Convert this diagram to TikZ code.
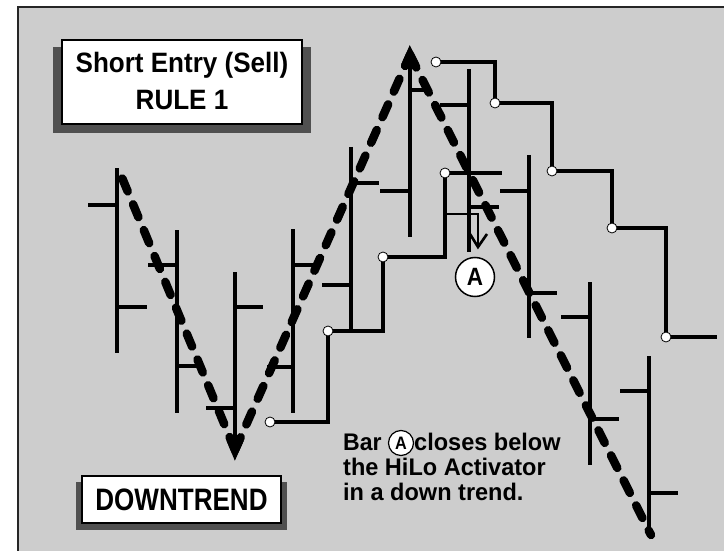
\documentclass[tikz,border=0pt]{standalone}
\usepackage{fontspec}
\usepackage{graphicx}
\setmainfont{Liberation Sans}
\usetikzlibrary{calc}
\definecolor{bg}{RGB}{205,205,205}
\definecolor{shadowc}{RGB}{80,80,80}
\begin{document}
\begin{tikzpicture}[x=1pt,y=-1pt,
  bar/.style={line width=3.4pt},
  hilo/.style={line width=3.4pt, line join=miter},
  dotmark/.style={circle, fill=white, draw=black, line width=0.8pt, inner sep=0pt, minimum size=10pt},
  trend/.style={line width=8.5pt, line cap=round, dash pattern=on 14pt off 14pt},
  corner/.style={line width=8.5pt, line join=miter, line cap=butt},
  label/.style={inner sep=0pt, font=\bfseries},
  boxc/.style={fill=white, draw=black, line width=1.5pt}]
\useasboundingbox (0,0) rectangle (724,551);
\fill[white] (0,0) rectangle (724,551);
\fill[bg] (18,7) rectangle (724,551);
\draw[line width=1.5pt, black!85] (18,551) -- (18,7) -- (724,7);

% price bars: x / top / bottom / open y / open tick end / close y / close tick end
\foreach \x/\t/\b/\o/\ol/\c/\cr in {
  117/168/353/205/88/307/147,
  177/230/413/265/148/366/197,
  235/272/450/408/206/307/263,
  293/229/413/367/267/265/315,
  351/147/331/285/322/183/379,
  410/50/237/191/380/90/430,
  469/69/252/105/440/207/499,
  529/155/338/191/500/293/557,
  590/282/465/317/561/419/619,
  649/356/530/391/620/493/678} {
  \draw[bar] (\x,\t) -- (\x,\b);
  \draw[bar] (\ol,\o) -- (\x,\o);
  \draw[bar] (\x,\c) -- (\cr,\c);
}

% HiLo activator, lower steps
\coordinate (l1) at (270,422);
\coordinate (l2) at (328,331);
\coordinate (l3) at (383,257);
\coordinate (l4) at (445,173);
\coordinate (l5) at (502,173);
\draw[hilo] (l1) -- (l1 -| l2) -- (l2) -- (l2 -| l3) -- (l3) -- (l3 -| l4) -- (l4) -- (l5);

% HiLo activator, upper steps
\coordinate (u1) at (436,62);
\coordinate (u2) at (495,103);
\coordinate (u3) at (552,171);
\coordinate (u4) at (612,228);
\coordinate (u5) at (666,337);
\coordinate (u6) at (717,337);
\draw[hilo] (u1) -- (u1 -| u2) -- (u2) -- (u2 -| u3) -- (u3) -- (u3 -| u4) -- (u4) -- (u4 -| u5) -- (u5) -- (u6);

% arrow to A
\coordinate (a0) at (445,214);
\coordinate (a1) at (478,214);
\coordinate (a2) at (478,247);
\draw[line width=2.6pt] (a0) -- (a1) -- (a2);
\draw[line width=2.6pt, line join=miter] (470,234) -- (a2) -- (487,234);

% trend line
\coordinate (T0) at (118,168);
\coordinate (V) at (235,450);
\coordinate (P) at (410,55);
\coordinate (E) at (651,535);
\draw[trend] (V) -- (T0);
\draw[trend] (V) -- (P);
\draw[trend] (P) -- (E);
\draw[corner] ($(V)!12pt!(T0)$) -- (V) -- ($(V)!12pt!(P)$);
\draw[corner] ($(P)!12pt!(V)$) -- (P) -- ($(P)!12pt!(E)$);

% dots
\foreach \n in {l1,l2,l3,l4,u1,u2,u3,u4,u5}
  \node[dotmark] (d\n) at (\n) {};

% circle A
\node[circle, draw=black, line width=1.5pt, fill=white, minimum size=39pt, inner sep=0pt,
      font=\bfseries\fontsize{25}{25}\selectfont] (A) at (475,277) {\scalebox{0.9}[1]{A}};

% title box
\fill[shadowc] (53,47) rectangle (311,133);
\draw[boxc] (62,40) rectangle (302,124);
\node[label, align=center, font=\bfseries\fontsize{28}{37}\selectfont] (title) at (182,81)
  {\scalebox{0.93}[1]{Short Entry (Sell)}\\\scalebox{0.93}[1]{RULE 1}};

% downtrend box
\fill[shadowc] (76,482) rectangle (287,530);
\draw[boxc] (82,476) rectangle (281,523);
\node[label, font=\bfseries\fontsize{31}{31}\selectfont] (down) at (181.5,499.5)
  {\scalebox{0.84}[1]{DOWNTREND}};

% explanation text
\node[label, anchor=base west, font=\bfseries\fontsize{24}{24}\selectfont] (bar) at (343,450) {\scalebox{0.96}[1]{Bar}};
\node[circle, draw=black, line width=1.2pt, fill=white, minimum size=25pt, inner sep=0pt,
      font=\bfseries\fontsize{18}{18}\selectfont] (smallA) at (401,443) {\scalebox{0.9}[1]{A}};
\node[label, anchor=base west, font=\bfseries\fontsize{24}{24}\selectfont] (closes) at (414,450) {\scalebox{0.98}[1]{closes below}};
\node[label, anchor=base west, font=\bfseries\fontsize{24}{24}\selectfont] (hilo) at (343,475) {\scalebox{0.98}[1]{the HiLo Activator}};
\node[label, anchor=base west, font=\bfseries\fontsize{24}{24}\selectfont] (downt) at (343,500) {\scalebox{0.98}[1]{in a down trend.}};
\end{tikzpicture}
\end{document}
